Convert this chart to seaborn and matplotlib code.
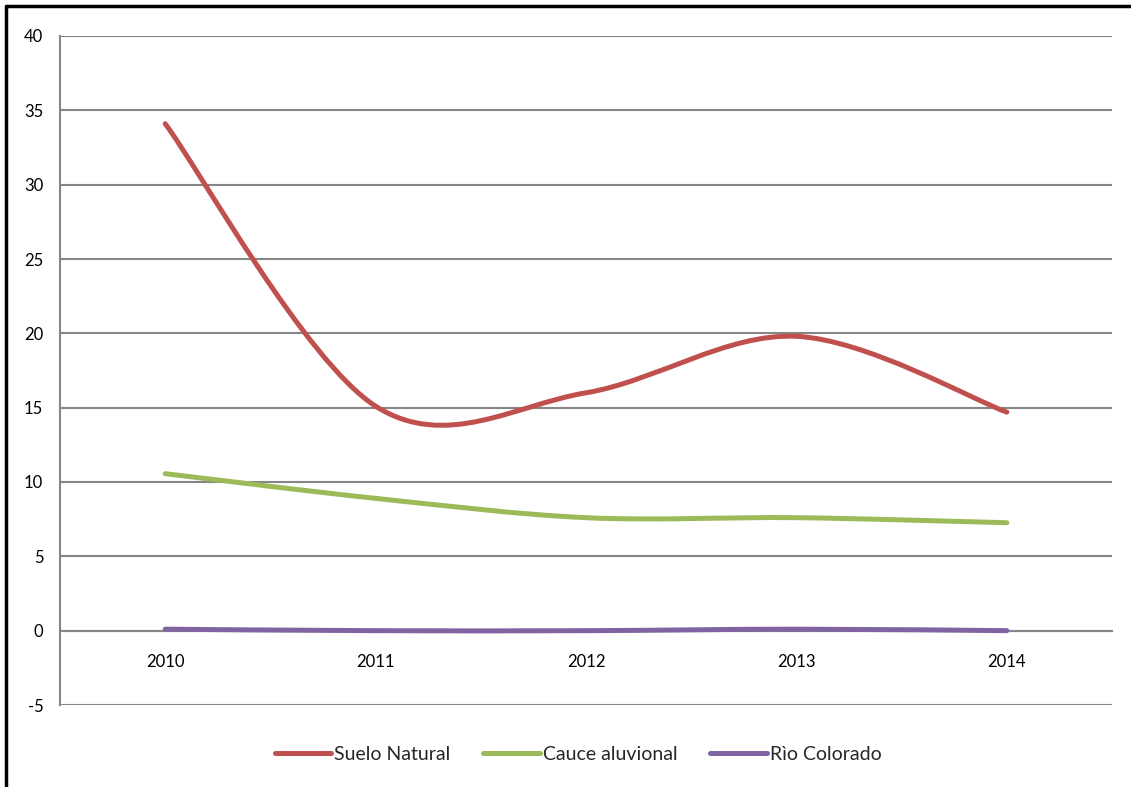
import numpy as np
import pandas as pd
import matplotlib
matplotlib.use("Agg")
import matplotlib.pyplot as plt
from matplotlib.path import Path
from matplotlib.patches import PathPatch
from matplotlib.lines import Line2D
import seaborn as sns

# =============================================================================
# Data
# =============================================================================
years = ['2010', '2011', '2012', '2013', '2014']
suelo_natural = [34.1, 15.1, 16.0, 19.8, 14.7]
cauce_aluvional = [10.56, 8.9, 7.6, 7.6, 7.26]
rio_colorado = [0.1, 0.0, 0.0, 0.1, 0.0]

series = {'Suelo Natural': suelo_natural,
          'Cauce aluvional': cauce_aluvional,
          'Rìo Colorado': rio_colorado}
colors = ['#C0504D', '#9BBB59', '#8064A2']

df = pd.DataFrame(series, index=years)

sns.set_theme(style='white')
plt.rcParams['font.family'] = ['Lato', 'DejaVu Sans']


def smooth_path(x, y):
    """Excel-like smoothed line as cubic Bezier segments (drawn by matplotlib)."""
    pts = np.column_stack([x, y]).astype(float)
    n = len(pts)
    verts = [pts[0]]
    codes = [Path.MOVETO]
    for i in range(n - 1):
        p0 = pts[max(i - 1, 0)]
        p1 = pts[i]
        p2 = pts[i + 1]
        p3 = pts[min(i + 2, n - 1)]
        c1 = p1 + (p2 - p0) / 6
        c2 = p2 - (p3 - p1) / 6
        verts += [c1, c2, p2]
        codes += [Path.CURVE4] * 3
    return Path(verts, codes)


fig = plt.figure(figsize=(11.31, 7.87), dpi=100)
ax = fig.add_axes([60 / 1131, 1 - 705 / 787, 1052 / 1131, 669 / 787])

xpos = np.arange(len(years))
for (name, col), color in zip(df.items(), colors):
    patch = PathPatch(smooth_path(xpos, col.values), facecolor='none',
                      edgecolor=color, linewidth=3.6, capstyle='round',
                      joinstyle='round', zorder=3)
    ax.add_patch(patch)

ax.set_xlim(-0.5, len(years) - 0.5)
ax.set_ylim(-5, 40)
ax.set_yticks(range(-5, 41, 5))
ax.set_yticklabels([str(v) for v in range(-5, 41, 5)], fontsize=12)
ax.yaxis.grid(True, color='#868686', linewidth=1.5)
ax.set_axisbelow(True)

for s in ['top', 'right']:
    ax.spines[s].set_visible(False)
ax.spines['left'].set_color('#868686')
ax.spines['left'].set_linewidth(1.5)
ax.spines['bottom'].set_position(('data', 0))
ax.spines['bottom'].set_color('#868686')
ax.spines['bottom'].set_linewidth(1.5)

ax.set_xticks(xpos)
ax.set_xticklabels(years, fontsize=12)
ax.set_xticks(np.arange(-0.5, len(years)), minor=True)
ax.tick_params(axis='x', which='major', length=0, pad=17, colors='black')
ax.tick_params(axis='x', which='minor', length=5, width=1.5,
               color='#868686', direction='out')
ax.tick_params(axis='y', length=5, width=1.5, color='#868686',
               direction='out', pad=7, labelcolor='black')

handles = [Line2D([0], [0], color=c, linewidth=3.6, solid_capstyle='round')
           for c in colors]
fig.legend(handles, list(series.keys()), loc='center',
           bbox_to_anchor=(578 / 1131, 1 - 754 / 787), ncol=3,
           frameon=False, fontsize=14, handlelength=2.9,
           handletextpad=0.15, columnspacing=1.7)

# outer frame (left and top edges)
fig.add_artist(Line2D([6 / 1131, 6 / 1131], [0, 1 - 6 / 787],
                      transform=fig.transFigure, color='black', linewidth=2.5))
fig.add_artist(Line2D([6 / 1131, 1], [1 - 6 / 787, 1 - 6 / 787],
                      transform=fig.transFigure, color='black', linewidth=2.5))

fig.savefig('out.png', dpi=100, facecolor='white')
